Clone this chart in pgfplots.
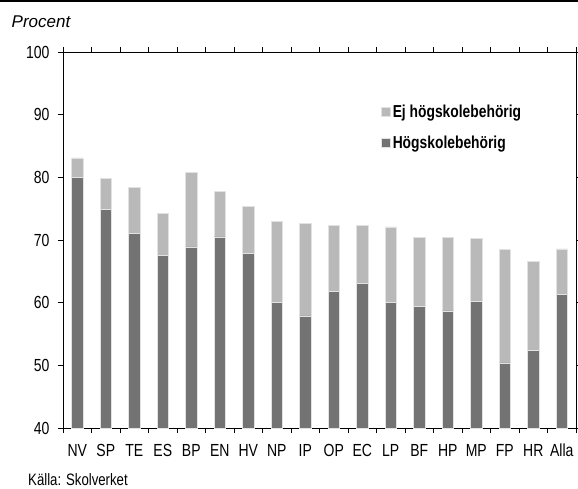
\documentclass[border=0pt]{standalone}
\usepackage{fontspec}
\setmainfont{Liberation Sans}[FakeStretch=0.8]
\newfontfamily\plainfont{Liberation Sans}
\usepackage{pgfplots}
\pgfplotsset{compat=1.18}
\definecolor{darkbar}{HTML}{737373}
\definecolor{lightbar}{HTML}{B9B9B9}
\definecolor{edgebar}{HTML}{E2E2E2}
\pgfplotstableread{
x hog ej
0 80.0 3.1
1 74.9 4.9
2 71.1 7.3
3 67.6 6.7
4 68.9 11.9
5 70.5 7.3
6 67.9 7.5
7 60.0 13.0
8 57.9 14.7
9 61.8 10.5
10 63.1 9.2
11 60.0 12.1
12 59.4 11.0
13 58.7 11.7
14 60.2 10.0
15 50.4 18.1
16 52.4 14.2
17 61.3 7.3
}\data
\begin{document}
\begin{tikzpicture}[x=1pt,y=1pt]
\useasboundingbox (0,0) rectangle (578,488);
\draw[line width=1.5pt] (0,487.2) -- (578,487.2);
\node[anchor=base west, inner sep=0, font=\plainfont\itshape\fontsize{17}{20}\selectfont] at (11.5,460.7) {Procent};
\node[anchor=base west, inner sep=0, font=\fontsize{16.5}{18}\selectfont] at (28,3) {Källa: Skolverket};
\begin{axis}[
  at={(63pt,60pt)}, anchor=south west,
  scale only axis, width=513pt, height=376pt,
  ybar stacked, bar width=11.2pt,
  xmin=-0.5, xmax=17.5, ymin=40, ymax=100,
  ytick={40,50,...,100},
  xtick={0,...,17},
  xticklabels={NV,SP,TE,ES,BP,EN,HV,NP,IP,OP,EC,LP,BF,HP,MP,FP,HR,Alla},
  minor xtick={-0.5,0.5,...,17.5},
  tick align=outside,
  major x tick style={draw=none},
  minor tick length=5pt, major tick length=5pt,
  tick style={black, line width=0.6pt},
  axis line style={black, line width=0.9pt},
  ticklabel style={font=\fontsize{17.5}{19}\selectfont},
  /pgf/number format/assume math mode=true,
  yticklabel style={anchor=east, xshift=-5pt},
  xticklabel style={anchor=base, yshift=-23pt},
  legend style={at={(0.619,0.865)}, anchor=north west, draw=none, fill=none,
    inner sep=0pt, row sep=12.5pt, font=\bfseries\fontsize{17.3}{19}\selectfont,
    cells={anchor=west}},
  legend image code/.code={\fill[#1] (0pt,-4.7pt) rectangle (9.5pt,4.7pt);},
  reverse legend,
  clip=true,
]
\addplot[fill=darkbar, draw=edgebar, line width=0.5pt] table[x=x,y=hog]{\data};
\addlegendentry{Högskolebehörig}
\addplot[fill=lightbar, draw=edgebar, line width=0.5pt] table[x=x,y=ej]{\data};
\addlegendentry{Ej högskolebehörig}
\end{axis}
\end{tikzpicture}
\end{document}
